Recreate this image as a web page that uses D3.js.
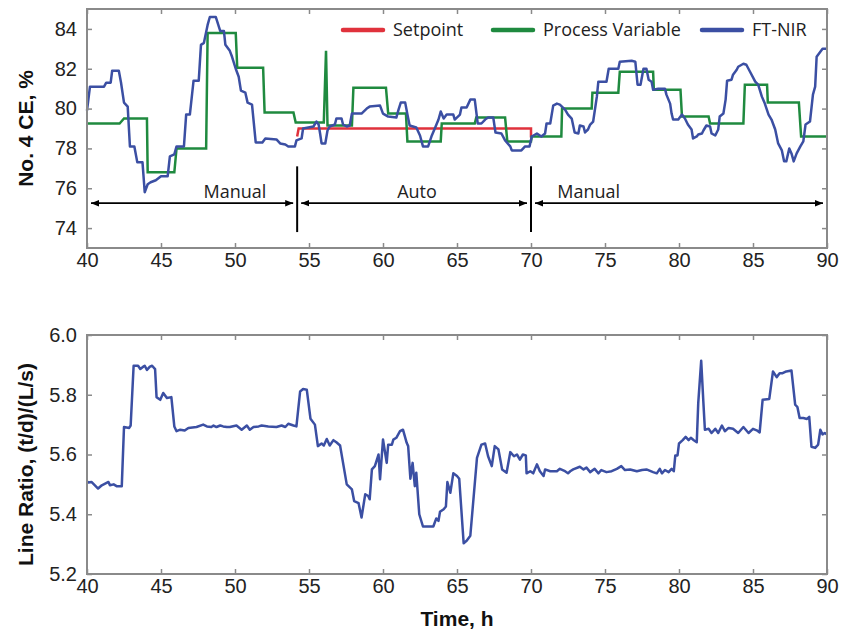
<!DOCTYPE html>
<html>
<head>
<meta charset="utf-8">
<script src="https://cdn.jsdelivr.net/npm/d3@7"></script>
<style>
  body { margin: 0; background: #fff; }
  svg { display: block; }
</style>
</head>
<body>
<div id="chart"></div>
<script>
const timeTicks = [40, 45, 50, 55, 60, 65, 70, 75, 80, 85, 90];
const ceTicks = [74, 76, 78, 80, 82, 84];
const ratioTicks = [5.2, 5.4, 5.6, 5.8, 6.0];

const seriesNames = ['Setpoint', 'Process Variable', 'FT-NIR'];

// [time h, No. 4 CE %]
const setpoint = [[54.2, 78.6], [54.3, 79.0], [70.0, 79.0], [70.0, 78.55]];

const processVariable = [
  [40, 79.25], [42.2, 79.25], [42.5, 79.5], [44.05, 79.5], [44.1, 76.8], [45.9, 76.8], [46.05, 78.0],
  [48.05, 78.0], [48.15, 83.8], [50.05, 83.8], [50.15, 82.05], [51.9, 82.05], [52.0, 79.8], [53.95, 79.8],
  [54.1, 79.3], [56.0, 79.3], [56.15, 82.9], [56.25, 79.15], [57.9, 79.15], [58.0, 81.05], [60.2, 81.05],
  [60.35, 79.75], [61.55, 79.75], [61.65, 78.35], [63.9, 78.35], [63.97, 79.25], [66.2, 79.25], [66.3, 79.55],
  [68.25, 79.55], [68.4, 78.35], [70.0, 78.35], [70.05, 78.6], [72.05, 78.6], [72.1, 80.0], [74.1, 80.0],
  [74.15, 80.8], [75.9, 80.8], [76.0, 81.85], [78.25, 81.85], [78.3, 80.95], [80.1, 80.95], [80.2, 79.6],
  [82.0, 79.6], [82.1, 79.25], [84.35, 79.25], [84.45, 81.2], [85.95, 81.2], [86.0, 80.3], [88.1, 80.3],
  [88.25, 78.6], [90, 78.6]
];

const ftnirCE = [
  [40.0, 79.9], [40.2, 81.1], [41.15, 81.1], [41.3, 81.3], [41.6, 81.3], [41.7, 81.9], [42.15, 81.9],
  [42.3, 81.3], [42.5, 80.3], [42.75, 80.1], [42.9, 78.1], [43.2, 78.1], [43.4, 77.3], [43.75, 77.3],
  [43.9, 75.8], [44.1, 76.2], [44.3, 76.3], [44.65, 76.4], [45.0, 76.6], [45.45, 76.6], [45.6, 77.6],
  [45.9, 77.7], [46.05, 78.1], [46.55, 78.1], [46.7, 79.7], [46.95, 79.7], [47.2, 81.4], [47.55, 81.4],
  [47.7, 83.2], [47.9, 83.3], [48.15, 84.2], [48.3, 84.6], [48.7, 84.6], [49.0, 83.9], [49.25, 83.9],
  [49.35, 83.2], [49.65, 82.9], [49.8, 82.6], [50.05, 82.0], [50.25, 81.6], [50.4, 80.9], [50.7, 80.8],
  [50.85, 80.3], [51.15, 80.2], [51.4, 78.3], [51.85, 78.3], [52.05, 78.5], [52.8, 78.45], [53.05, 78.25],
  [53.4, 78.2], [53.6, 78.1], [54.05, 78.1], [54.15, 78.4], [54.5, 78.5], [54.6, 79.0], [55.3, 79.1],
  [55.5, 79.35], [55.65, 79.2], [55.75, 78.75], [55.85, 78.25], [56.1, 78.25], [56.25, 78.9], [56.4, 79.1],
  [56.75, 79.2], [56.85, 79.5], [57.2, 79.5], [57.3, 79.2], [57.55, 79.1], [57.75, 79.15], [57.9, 79.75],
  [58.55, 79.75], [58.9, 80.0], [59.1, 80.1], [59.8, 80.15], [60.0, 79.75], [60.35, 79.6], [60.9, 79.55],
  [61.05, 79.95], [61.2, 80.3], [61.5, 80.3], [61.65, 79.7], [61.8, 79.15], [62.25, 79.05], [62.5, 78.65],
  [62.7, 78.1], [63.05, 78.1], [63.3, 78.65], [63.5, 79.0], [63.75, 79.45], [63.9, 79.85], [64.1, 79.5],
  [64.3, 79.7], [64.75, 79.7], [64.85, 79.45], [65.2, 79.7], [65.3, 80.05], [65.65, 80.05], [65.9, 80.45],
  [66.2, 80.45], [66.4, 79.25], [66.65, 79.25], [66.9, 79.45], [67.1, 79.55], [67.45, 79.55], [67.6, 78.8],
  [68.0, 78.75], [68.25, 78.4], [68.6, 78.1], [68.7, 77.9], [69.35, 77.9], [69.6, 78.1], [69.9, 78.1],
  [70.05, 78.6], [70.4, 78.75], [70.7, 78.6], [70.95, 78.75], [71.05, 79.25], [71.3, 79.25], [71.5, 80.15],
  [71.75, 80.25], [71.95, 80.2], [72.3, 79.95], [72.5, 79.7], [72.75, 79.5], [72.85, 79.15], [72.95, 78.8],
  [73.2, 78.75], [73.3, 79.15], [73.55, 79.1], [73.65, 78.8], [73.85, 78.95], [74.0, 79.2], [74.2, 79.35],
  [74.45, 80.6], [74.55, 81.35], [75.1, 81.35], [75.25, 82.0], [75.9, 82.0], [76.0, 82.35], [76.8, 82.4],
  [77.05, 82.35], [77.2, 81.2], [77.4, 81.2], [77.6, 82.0], [77.8, 82.0], [77.95, 81.45], [78.15, 81.35],
  [78.25, 80.95], [78.6, 81.0], [79.05, 81.0], [79.15, 80.7], [79.4, 80.25], [79.5, 79.75], [79.6, 79.45],
  [79.95, 79.45], [80.2, 79.7], [80.4, 79.5], [80.6, 79.2], [80.85, 78.95], [80.95, 78.5], [81.2, 78.6],
  [81.3, 78.7], [81.55, 78.75], [81.65, 78.9], [81.85, 79.15], [82.1, 79.1], [82.2, 78.75], [82.45, 78.65],
  [82.65, 78.95], [82.75, 79.6], [83.0, 79.75], [83.15, 80.45], [83.25, 81.4], [83.55, 81.45], [83.65, 81.7],
  [83.9, 81.95], [84.0, 82.1], [84.35, 82.25], [84.55, 82.2], [84.8, 81.85], [85.15, 81.35], [85.35, 81.2],
  [85.6, 80.6], [85.8, 80.25], [86.05, 79.7], [86.25, 79.45], [86.5, 78.95], [86.7, 78.25], [86.95, 77.9],
  [87.1, 77.35], [87.25, 77.35], [87.45, 78.0], [87.6, 77.75], [87.75, 77.35], [87.95, 77.75], [88.2, 78.1],
  [88.4, 78.35], [88.55, 79.2], [88.85, 79.35], [89.05, 80.7], [89.2, 81.1], [89.3, 82.6], [89.55, 82.85],
  [89.7, 83.0], [89.95, 83.0]
];

// [time h, line ratio (t/d)/(L/s)]
const lineRatio = [
  [40.0, 5.51], [40.1, 5.506], [40.3, 5.508], [40.75, 5.486], [41.0, 5.497], [41.45, 5.508], [41.55, 5.497],
  [41.8, 5.5], [42.0, 5.494], [42.35, 5.494], [42.5, 5.692], [42.85, 5.689], [42.95, 5.697], [43.15, 5.897],
  [43.45, 5.897], [43.6, 5.886], [43.8, 5.894], [43.9, 5.897], [44.05, 5.883], [44.25, 5.894], [44.4, 5.897],
  [44.6, 5.886], [44.7, 5.792], [44.95, 5.783], [45.15, 5.806], [45.4, 5.789], [45.7, 5.792], [45.9, 5.694],
  [46.05, 5.678], [46.3, 5.683], [46.6, 5.68], [46.85, 5.689], [47.4, 5.692], [47.85, 5.7], [48.1, 5.694],
  [48.4, 5.692], [48.55, 5.697], [48.75, 5.692], [49.0, 5.697], [49.2, 5.694], [49.45, 5.692], [49.65, 5.692],
  [50.1, 5.697], [50.45, 5.683], [50.8, 5.697], [51.0, 5.683], [51.25, 5.692], [51.6, 5.694], [51.8, 5.697],
  [52.25, 5.694], [52.8, 5.692], [53.15, 5.697], [53.4, 5.692], [53.6, 5.703], [53.95, 5.697], [54.15, 5.694],
  [54.4, 5.811], [54.6, 5.819], [54.85, 5.817], [55.1, 5.72], [55.4, 5.7], [55.6, 5.628], [55.85, 5.637],
  [56.0, 5.63], [56.2, 5.652], [56.4, 5.63], [56.65, 5.648], [56.85, 5.641], [57.1, 5.63], [57.55, 5.5],
  [57.9, 5.483], [58.05, 5.444], [58.35, 5.437], [58.55, 5.389], [58.8, 5.467], [59.0, 5.461], [59.1, 5.45],
  [59.25, 5.55], [59.45, 5.561], [59.7, 5.6], [59.8, 5.517], [60.0, 5.65], [60.25, 5.572], [60.35, 5.633],
  [60.6, 5.633], [60.7, 5.65], [60.9, 5.656], [61.15, 5.678], [61.35, 5.683], [61.6, 5.639], [61.7, 5.628],
  [61.85, 5.519], [62.0, 5.572], [62.15, 5.494], [62.25, 5.539], [62.45, 5.4], [62.7, 5.359], [63.4, 5.359],
  [63.6, 5.386], [63.75, 5.378], [63.85, 5.408], [64.1, 5.417], [64.25, 5.426], [64.35, 5.508], [64.55, 5.472],
  [64.75, 5.537], [65.0, 5.528], [65.15, 5.519], [65.45, 5.303], [65.65, 5.311], [65.9, 5.328], [66.35, 5.589],
  [66.65, 5.633], [66.9, 5.637], [67.1, 5.594], [67.35, 5.561], [67.55, 5.628], [67.8, 5.617], [68.05, 5.55],
  [68.35, 5.539], [68.6, 5.608], [68.85, 5.594], [69.05, 5.6], [69.25, 5.583], [69.45, 5.6], [69.65, 5.597],
  [69.7, 5.537], [69.95, 5.544], [70.15, 5.537], [70.4, 5.567], [70.6, 5.544], [70.85, 5.528], [70.95, 5.55],
  [71.3, 5.544], [71.75, 5.544], [71.95, 5.552], [72.3, 5.544], [72.5, 5.537], [72.65, 5.544], [72.85, 5.55],
  [73.3, 5.559], [73.55, 5.55], [73.75, 5.556], [74.0, 5.541], [74.3, 5.552], [74.55, 5.537], [74.75, 5.548],
  [75.1, 5.541], [75.45, 5.544], [75.8, 5.552], [76.1, 5.561], [76.35, 5.548], [76.7, 5.55], [77.15, 5.544],
  [77.5, 5.548], [77.8, 5.55], [78.25, 5.541], [78.5, 5.537], [78.7, 5.552], [78.85, 5.537], [79.05, 5.548],
  [79.3, 5.541], [79.5, 5.552], [79.65, 5.544], [79.75, 5.597], [79.9, 5.597], [80.0, 5.637], [80.25, 5.648],
  [80.45, 5.659], [80.65, 5.648], [80.8, 5.656], [81.0, 5.648], [81.2, 5.641], [81.3, 5.772], [81.5, 5.914],
  [81.65, 5.772], [81.75, 5.683], [82.0, 5.686], [82.2, 5.672], [82.45, 5.686], [82.65, 5.672], [82.9, 5.697],
  [83.1, 5.678], [83.35, 5.689], [83.65, 5.686], [84.0, 5.672], [84.35, 5.692], [84.7, 5.672], [85.0, 5.686],
  [85.25, 5.681], [85.45, 5.674], [85.65, 5.783], [86.1, 5.786], [86.35, 5.878], [86.6, 5.859], [86.8, 5.872],
  [87.0, 5.872], [87.25, 5.878], [87.6, 5.881], [87.85, 5.767], [88.0, 5.759], [88.15, 5.722], [88.4, 5.722],
  [88.65, 5.719], [88.8, 5.726], [88.95, 5.626], [89.2, 5.622], [89.4, 5.633], [89.55, 5.683], [89.7, 5.667],
  [89.85, 5.672], [90.0, 5.667]
];

// control mode periods: [start h, end h, label, label position h]
const modes = [[40, 54.2, 'Manual', 50.0], [54.2, 70, 'Auto', 62.3], [70, 90, 'Manual', 73.9]];
const switchTimes = [54.2, 70];

const width = 846, height = 631;
const left = 87, right = 827;
const top1 = 9, bottom1 = 248;
const top2 = 335, bottom2 = 574;

const colors = {setpoint: '#e0323c', pv: '#1f8a3f', ftnir: '#3b4fa3'};
const frameColor = '#8a8a8a';
const tickFont = '"Liberation Sans", Arial, sans-serif';
const noteFont = '"Open Sans", sans-serif';

const svg = d3.select('#chart').append('svg')
  .attr('width', width)
  .attr('height', height)
  .attr('viewBox', [0, 0, width, height]);

svg.append('rect').attr('width', width).attr('height', height).attr('fill', '#fff');

const x = d3.scaleLinear().domain([40, 90]).range([left, right]);
const y1 = d3.scaleLinear().domain([73, 85]).range([bottom1, top1]);
const y2 = d3.scaleLinear().domain([5.2, 6.0]).range([bottom2, top2]);

function styleAxis(g) {
  g.select('.domain').remove();
  g.selectAll('.tick line').attr('stroke', frameColor).attr('stroke-width', 1.5);
  g.selectAll('.tick text')
    .attr('fill', '#222')
    .style('font-family', tickFont)
    .style('font-size', '20px');
}

function drawFrame(y, yTicks, yFormat, top, bottom) {
  svg.append('g')
    .attr('transform', `translate(0,${bottom})`)
    .call(d3.axisBottom(x).tickValues(timeTicks).tickSizeInner(-5).tickSizeOuter(0).tickPadding(5))
    .call(styleAxis);
  svg.append('g')
    .attr('transform', `translate(0,${top})`)
    .call(d3.axisTop(x).tickValues(timeTicks).tickSizeInner(-5).tickSizeOuter(0).tickFormat(''))
    .call(styleAxis);
  svg.append('g')
    .attr('transform', `translate(${left},0)`)
    .call(d3.axisLeft(y).tickValues(yTicks).tickSizeInner(-5).tickSizeOuter(0).tickPadding(10).tickFormat(yFormat))
    .call(styleAxis);
  svg.append('g')
    .attr('transform', `translate(${right},0)`)
    .call(d3.axisRight(y).tickValues(yTicks).tickSizeInner(-5).tickSizeOuter(0).tickFormat(''))
    .call(styleAxis);
  svg.append('rect')
    .attr('x', left).attr('y', top)
    .attr('width', right - left).attr('height', bottom - top)
    .attr('fill', 'none')
    .attr('stroke', frameColor)
    .attr('stroke-width', 2);
}

// ---- top panel ----
const line1 = d3.line().x(d => x(d[0])).y(d => y1(d[1]));

svg.append('path').datum(setpoint)
  .attr('d', line1).attr('fill', 'none')
  .attr('stroke', colors.setpoint).attr('stroke-width', 2.5);
svg.append('path').datum(processVariable)
  .attr('d', line1).attr('fill', 'none')
  .attr('stroke', colors.pv).attr('stroke-width', 2.5);
svg.append('path').datum(ftnirCE)
  .attr('d', line1).attr('fill', 'none')
  .attr('stroke', colors.ftnir).attr('stroke-width', 2.5).attr('stroke-linejoin', 'round');

// mode annotations
const defs = svg.append('defs');
defs.append('marker')
  .attr('id', 'arrow')
  .attr('viewBox', '0 0 10 10')
  .attr('refX', 10).attr('refY', 5)
  .attr('markerWidth', 8).attr('markerHeight', 8)
  .attr('markerUnits', 'userSpaceOnUse')
  .attr('orient', 'auto-start-reverse')
  .append('path').attr('d', 'M0,1 L10,5 L0,9 Z').attr('fill', '#000');

const arrowY = y1(75.25);
svg.append('g')
  .selectAll('line')
  .data(switchTimes)
  .join('line')
    .attr('x1', d => x(d)).attr('x2', d => x(d))
    .attr('y1', y1(77.1)).attr('y2', y1(73.8))
    .attr('stroke', '#000').attr('stroke-width', 2);

svg.append('g')
  .selectAll('line')
  .data(modes)
  .join('line')
    .attr('x1', d => x(d[0]) + 4).attr('x2', d => x(d[1]) - 4)
    .attr('y1', arrowY).attr('y2', arrowY)
    .attr('stroke', '#000').attr('stroke-width', 1.8)
    .attr('marker-start', 'url(#arrow)')
    .attr('marker-end', 'url(#arrow)');

svg.append('g')
  .selectAll('text')
  .data(modes)
  .join('text')
    .attr('x', d => x(d[3]))
    .attr('y', arrowY - 5)
    .attr('text-anchor', 'middle')
    .style('font-family', noteFont)
    .style('font-size', '18px')
    .attr('fill', '#222')
    .text(d => d[2]);

// legend
const legendItems = [
  {name: seriesNames[0], color: colors.setpoint, x0: 343},
  {name: seriesNames[1], color: colors.pv, x0: 493},
  {name: seriesNames[2], color: colors.ftnir, x0: 702}
];
const legend = svg.append('g').attr('transform', 'translate(0,30)');
legend.selectAll('line')
  .data(legendItems)
  .join('line')
    .attr('x1', d => d.x0).attr('x2', d => d.x0 + 40)
    .attr('stroke', d => d.color).attr('stroke-width', 4.5)
    .attr('stroke-linecap', 'round');
legend.selectAll('text')
  .data(legendItems)
  .join('text')
    .attr('x', d => d.x0 + 50)
    .attr('y', 6)
    .style('font-family', noteFont)
    .style('font-size', '18px')
    .attr('fill', '#222')
    .text(d => d.name);

drawFrame(y1, ceTicks, d3.format('d'), top1, bottom1);

// ---- bottom panel ----
const line2 = d3.line().x(d => x(d[0])).y(d => y2(d[1]));
svg.append('path').datum(lineRatio)
  .attr('d', line2).attr('fill', 'none')
  .attr('stroke', colors.ftnir).attr('stroke-width', 2.5).attr('stroke-linejoin', 'round');

drawFrame(y2, ratioTicks, d3.format('.1f'), top2, bottom2);

// axis titles
const titleStyle = t => t
  .style('font-family', tickFont)
  .style('font-size', '21px')
  .style('font-weight', 'bold')
  .attr('fill', '#111')
  .attr('text-anchor', 'middle');

svg.append('text')
  .attr('transform', `translate(33,${(top1 + bottom1) / 2}) rotate(-90)`)
  .call(titleStyle)
  .text('No. 4 CE, %');

svg.append('text')
  .attr('transform', `translate(33,${(top2 + bottom2) / 2 + 10}) rotate(-90)`)
  .call(titleStyle)
  .text('Line Ratio, (t/d)/(L/s)');

svg.append('text')
  .attr('x', (left + right) / 2)
  .attr('y', 626)
  .call(titleStyle)
  .text('Time, h');
</script>
</body>
</html>
